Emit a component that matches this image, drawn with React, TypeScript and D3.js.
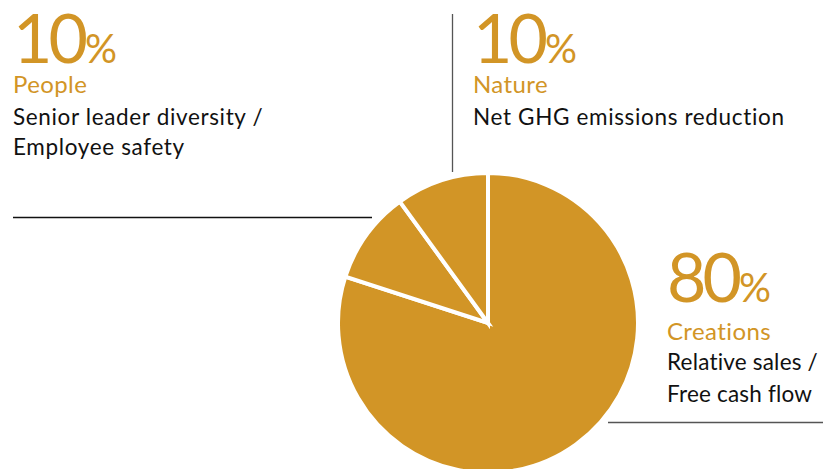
import React from "react";
import * as d3 from "d3";

const categories = ["Creations", "People", "Nature"];
const values = [80, 10, 10];
const percentLabels = ["80", "10", "10"];
const descriptions = [
  ["Relative sales /", "Free cash flow"],
  ["Senior leader diversity /", "Employee safety"],
  ["Net GHG emissions reduction"],
];

const W = 823;
const H = 469;
const GOLD = "#D29526";
const FONT = "Lato, 'Open Sans', sans-serif";

// label anchor positions (layout only)
const labelPos = [
  { x: 667, y: 302, title: 38, desc: 68, lh: 32, ls: 0.2 },
  { x: 13, y: 63, title: 30, desc: 62, lh: 30, ls: 0.65 },
  { x: 473, y: 63, title: 30, desc: 62, lh: 30, ls: 0.65 },
];

export default function App() {
  const cx = 488;
  const cy = 323;
  const r = 150;
  const pie = d3
    .pie<number>()
    .sort(null)
    .value((d) => d)
    .startAngle(0)
    .endAngle(2 * Math.PI);
  const arcs = pie(values);
  const arc = d3.arc<d3.PieArcDatum<number>>().innerRadius(0).outerRadius(r);

  return (
    <svg
      width={W}
      height={H}
      style={{ position: "absolute", left: 0, top: 0, background: "#fff" }}
    >
      <g transform={`translate(${cx},${cy})`}>
        {arcs.map((a, i) => (
          <path
            key={i}
            d={arc(a) || ""}
            fill={GOLD}
            stroke="#fff"
            strokeWidth={4}
            strokeLinejoin="miter"
          />
        ))}
      </g>
      {/* leader lines */}
      <line x1={13} x2={372} y1={217.5} y2={217.5} stroke="#111" strokeWidth={1.3} />
      <line x1={452.5} x2={452.5} y1={14} y2={172} stroke="#555" strokeWidth={1.3} />
      <line x1={608} x2={823} y1={422.5} y2={422.5} stroke="#555" strokeWidth={1.3} />

      {categories.map((c, i) => {
        const p = labelPos[i];
        return (
          <g key={c} fontFamily={FONT}>
            <text x={p.x} y={p.y} fill={GOLD}>
              <tspan fontSize={68} letterSpacing={-4}>
                {percentLabels[i]}
              </tspan>
              <tspan fontSize={40} dx={1}>
                %
              </tspan>
            </text>
            <text
              x={p.x}
              y={p.y + p.title}
              fill={GOLD}
              fontSize={24}
              letterSpacing={0.4}
            >
              {c}
            </text>
            {descriptions[i].map((d, j) => (
              <text
                key={j}
                x={p.x}
                y={p.y + p.desc + j * p.lh}
                fill="#111"
                fontSize={22.5}
                letterSpacing={p.ls}
              >
                {d}
              </text>
            ))}
          </g>
        );
      })}
    </svg>
  );
}
